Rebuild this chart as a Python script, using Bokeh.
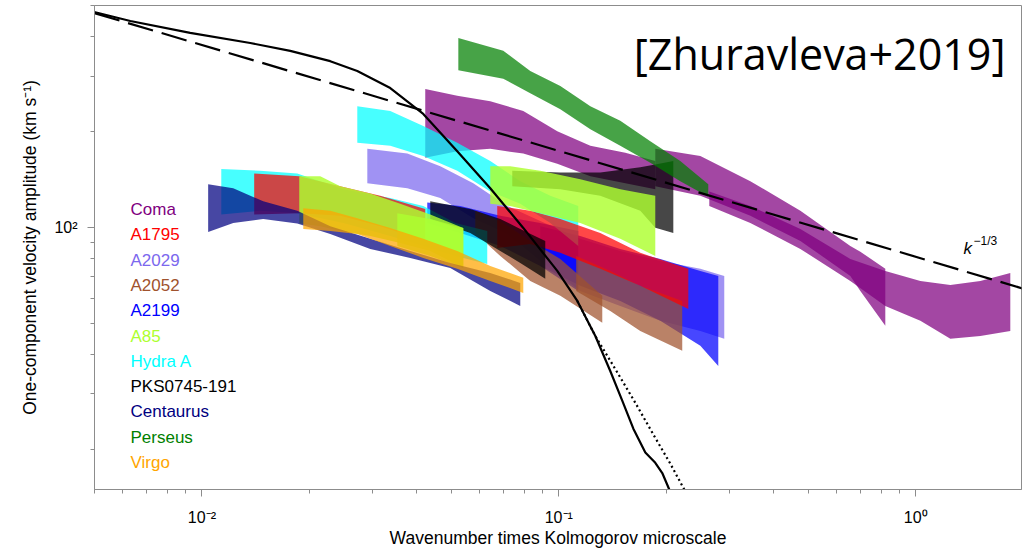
from bokeh.plotting import figure
from bokeh.models import FixedTicker, CustomJSTickFormatter, Label, Range1d
from bokeh.embed import file_html
from bokeh.resources import INLINE

# ---------------- data (wavenumber * Kolmogorov microscale, velocity km/s) ----------------
names = ["Coma", "A1795", "A2029", "A2052", "A2199", "A85", "Hydra A",
         "PKS0745-191", "Centaurus", "Perseus", "Virgo"]
colors = ["purple", "red", "mediumslateblue", "sienna", "blue", "greenyellow",
          "cyan", "black", "navy", "green", "orange"]

# Coma
coma_k1 = [0.04225, 0.05194, 0.06427, 0.07953, 0.09904, 0.1226, 0.1536, 0.1864]
coma_hi1 = [273, 260, 250, 233, 201, 181, 172, 162]
coma_lo1 = [166, 174, 177, 171, 159, 145, 138, 132]
coma_k2 = [0.1864, 0.2493, 0.3442, 0.4753, 0.6561, 0.7000, 0.8223]
coma_hi2 = [177, 168, 140, 113, 87.6, 84.0, 74.2]
coma_lo2 = [135, 126, 109, 90.8, 70.5, 63.2, 49.1]
coma_k3 = [0.2641, 0.3442, 0.4753, 0.6561, 0.8223, 1.031, 1.251, 1.518, 1.842]
coma_hi3 = [130, 117, 99.1, 79.7, 73.1, 68.0, 66.0, 68.0, 72.0]
coma_lo3 = [117, 103.5, 85.7, 68.0, 56.7, 50.9, 44.7, 45.6, 47.3]

# A1795
a1795_k1 = [0.01401, 0.01874, 0.02441, 0.0316, 0.04225]
a1795_hi1 = [148, 145, 135, 126, 114.5]
a1795_lo1 = [110, 111, 109, 101, 90.8]
a1795_k2 = [0.06723, 0.0832, 0.101, 0.1307, 0.1692, 0.2307]
a1795_hi2 = [117, 113, 106.5, 96.2, 83.3, 74.2]
a1795_lo2 = [86.3, 88.9, 83.3, 74.2, 65.6, 55.5]

# A2029
a2029_k = [0.02907, 0.03763, 0.04655, 0.0576, 0.07173, 0.08873, 0.1149, 0.1487, 0.1925, 0.2493, 0.2909]
a2029_hi = [177, 171, 156, 138, 117, 105, 92.2, 84.5, 78.6, 74.2, 70.5]
a2029_lo = [138, 133, 124, 107, 95.5, 78.6, 63.2, 56.7, 50.9, 47.3, 44.7]

# A2052
a2052_k1 = [0.05834, 0.06855, 0.0832, 0.101, 0.1324]
a2052_hi1 = [113, 105, 90.8, 79.7, 61.0]
a2052_lo1 = [96.2, 81.5, 68.0, 61.0, 50.2]
a2052_k2 = [0.1119, 0.1394, 0.1692, 0.2218]
a2052_hi2 = [81.5, 73.1, 65.6, 58.8]
a2052_lo2 = [63.2, 54.7, 47.3, 41.0]

# A2199
a2199_k1 = [0.0428, 0.05295, 0.06855, 0.08873, 0.1134]
a2199_hi1 = [120, 117, 109, 103.5, 97.6]
a2199_lo1 = [103.5, 96.2, 87.6, 75.8, 63.2]
a2199_k2 = [0.08873, 0.1149, 0.1487, 0.1925, 0.2493, 0.2799]
a2199_hi2 = [101, 94.2, 85.7, 79.7, 73.1, 70.5]
a2199_lo2 = [75.8, 65.6, 58.8, 50.9, 42.5, 36.7]

# A85
a85_k1 = [0.01874, 0.02146, 0.02441, 0.02963, 0.03596, 0.04364, 0.054]
a85_hi1 = [145, 145, 135, 128, 119, 110, 99.8]
a85_lo1 = [103, 101, 97.6, 94.2, 89.5, 84.5, 74.7]
a85_k2 = [0.03528, 0.04364, 0.054]
a85_hi2 = [111, 106.5, 99.8]
a85_lo2 = [87.6, 81.5, 74.7]
a85_k3 = [0.06427, 0.07313, 0.08873, 0.1149, 0.1487, 0.1864]
a85_hi3 = [156, 156, 151, 142, 132, 126]
a85_lo3 = [119, 117, 111, 103.5, 92.2, 81.5]

# Hydra A
hydra_k1 = [0.01133, 0.01456, 0.0185, 0.02489, 0.03371, 0.04171, 0.05127, 0.06303]
hydra_hi1 = [153, 151, 148, 132, 124, 117, 103.5, 97.6]
hydra_lo1 = [110, 113, 111, 103.5, 94.2, 87.6, 81.5, 76.9]
hydra_k2 = [0.02725, 0.03371, 0.04171, 0.05194, 0.06427, 0.078, 0.09466, 0.1134]
hydra_hi2 = [241, 233, 209, 185, 162, 140, 126, 117]
hydra_lo2 = [185, 181, 168, 151, 130, 119, 103.5, 87.6]

# PKS0745-191
pks_k1 = [0.04364, 0.05649, 0.06855, 0.078, 0.09165]
pks_hi1 = [121, 114.5, 106.5, 99.1, 90.8]
pks_lo1 = [106.5, 96.2, 84.5, 77.4, 69.0]
pks_k2 = [0.07408, 0.101, 0.1307, 0.1692, 0.1864, 0.2094]
pks_hi2 = [151, 149, 149, 155, 158, 162]
pks_lo2 = [135, 132, 126, 113, 100, 96.2]

# Centaurus
cen_k = [0.01041, 0.01224, 0.01485, 0.0185, 0.02289, 0.02963, 0.03836, 0.04965, 0.06427, 0.078]
cen_hi = [137, 133, 121, 113, 101, 92.2, 84.5, 77.4, 72.0, 67.0]
cen_lo = [96.9, 103.5, 106.5, 103, 95.5, 85.7, 80.3, 74.7, 63.2, 56.7]

# Perseus
per_k = [0.0523, 0.0699, 0.0832, 0.101, 0.1226, 0.1487, 0.1805, 0.219, 0.2624]
per_hi = [395, 360, 311, 279, 241, 217, 187, 162, 137]
per_lo = [313, 294, 265, 236, 204, 181, 160, 140, 125]

# Virgo
vir_k = [0.01923, 0.02289, 0.02725, 0.03371, 0.04171, 0.05194, 0.06427, 0.07953]
vir_hi = [115, 113, 107, 99.8, 92.2, 84.5, 75.8, 69.5]
vir_lo = [99.1, 97.6, 95.5, 87.6, 80.3, 74.2, 68.0, 62.3]

# model curves
model_k = [0.00499, 0.0063, 0.00927, 0.01366, 0.01768, 0.02289, 0.02725, 0.03371, 0.04171,
           0.05194, 0.06427, 0.07953, 0.09904, 0.1127, 0.1266, 0.1394, 0.1507, 0.1618,
           0.1748, 0.1864, 0.195, 0.204]
model_v = [477, 447, 410, 381, 360, 334, 311, 275, 228, 174, 133, 99.8, 73.1, 58.8,
           45.6, 35.4, 28.5, 23.3, 19.6, 18.2, 16.9, 15.0]
model2_k = [0.1127, 0.1266, 0.144, 0.1639, 0.1864, 0.2053, 0.2247]
model2_v = [58.8, 45.6, 35.9, 28.1, 21.8, 18.1, 15.0]
kolmo_k = [0.005, 2.0]
kolmo_v = [473, 64.3]

x_major = [0.01, 0.1, 1.0]
x_minor = [0.005, 0.006, 0.007, 0.008, 0.009, 0.02, 0.03, 0.04, 0.05, 0.06, 0.07, 0.08, 0.09,
           0.2, 0.3, 0.4, 0.5, 0.6, 0.7, 0.8, 0.9, 2.0]
y_major = [100]
y_minor = [20, 30, 40, 50, 60, 70, 80, 90, 200, 300, 400, 500]

# ---------------- figure ----------------
p = figure(width=1022, height=550, x_axis_type="log", y_axis_type="log",
           x_range=Range1d(0.005, 1.98), y_range=Range1d(15, 500),
           output_backend="svg", toolbar_location=None,
           min_border_left=94, min_border_right=1, min_border_top=5, min_border_bottom=61)
p.background_fill_color = "white"
p.border_fill_color = "white"
p.outline_line_color = "#8c8c8c"
p.xgrid.visible = False
p.ygrid.visible = False

ALPHA = 0.72
band_sets = [
    ("purple", ALPHA, [(coma_k1, coma_hi1, coma_lo1), (coma_k2, coma_hi2, coma_lo2), (coma_k3, coma_hi3, coma_lo3)]),
    ("mediumslateblue", ALPHA, [(a2029_k, a2029_hi, a2029_lo)]),
    ("blue", ALPHA, [(a2199_k1, a2199_hi1, a2199_lo1), (a2199_k2, a2199_hi2, a2199_lo2)]),
    ("sienna", ALPHA, [(a2052_k1, a2052_hi1, a2052_lo1), (a2052_k2, a2052_hi2, a2052_lo2)]),
    ("cyan", ALPHA, [(hydra_k1, hydra_hi1, hydra_lo1), (hydra_k2, hydra_hi2, hydra_lo2)]),
    ("red", ALPHA, [(a1795_k1, a1795_hi1, a1795_lo1), (a1795_k2, a1795_hi2, a1795_lo2)]),
    ("black", ALPHA, [(pks_k1, pks_hi1, pks_lo1), (pks_k2, pks_hi2, pks_lo2)]),
    ("greenyellow", 0.82, [(a85_k1, a85_hi1, a85_lo1), (a85_k2, a85_hi2, a85_lo2), (a85_k3, a85_hi3, a85_lo3)]),
    ("navy", ALPHA, [(cen_k, cen_hi, cen_lo)]),
    ("green", ALPHA, [(per_k, per_hi, per_lo)]),
    ("orange", ALPHA, [(vir_k, vir_hi, vir_lo)]),
]
for col, alpha, segs in band_sets:
    for k, hi, lo in segs:
        p.varea(x=k, y1=lo, y2=hi, fill_color=col, fill_alpha=alpha)

p.line(model2_k, model2_v, line_color="black", line_width=2.2, line_dash="2 3")
p.line(model_k, model_v, line_color="black", line_width=2.2)
p.line(kolmo_k, kolmo_v, line_color="black", line_width=2.2, line_dash="26 9")

# ---------------- axes ----------------
fmt = CustomJSTickFormatter(code="""
const e = Math.round(Math.log10(tick));
const m = {"-2": "10\u207B\u00B2", "-1": "10\u207B\u00B9", "0": "10\u2070", "1": "10\u00B9", "2": "10\u00B2"};
return m[String(e)] || "";
""")
for ax, maj, mnr in ((p.xaxis[0], x_major, x_minor), (p.yaxis[0], y_major, y_minor)):
    ax.ticker = FixedTicker(ticks=maj, minor_ticks=mnr)
    ax.formatter = fmt
    ax.axis_line_color = "#8c8c8c"
    ax.major_tick_line_color = "#8c8c8c"
    ax.minor_tick_line_color = "#8c8c8c"
    ax.major_tick_in = 0
    ax.major_tick_out = 7
    ax.minor_tick_in = 0
    ax.minor_tick_out = 4
    ax.major_label_text_font = "Liberation Sans"
    ax.major_label_text_font_size = "16px"
    ax.major_label_text_color = "black"
    ax.axis_label_text_font = "Liberation Sans"
    ax.axis_label_text_font_size = "17.5px"
    ax.axis_label_text_font_style = "normal"
    ax.axis_label_text_color = "black"

p.xaxis.axis_label = "Wavenumber times Kolmogorov microscale"
p.yaxis.axis_label = "One-component velocity amplitude (km s\u207B\u00B9)"
p.xaxis.major_label_standoff = 12
p.yaxis.major_label_standoff = 10
p.xaxis.axis_label_standoff = -1
p.yaxis.axis_label_standoff = 11

# ---------------- labels ----------------
for i, (name, col) in enumerate(zip(names, colors)):
    p.add_layout(Label(x=36, y=280 - 25.3 * i, x_units="screen", y_units="screen",
                       text=name, text_color=col, text_font="Liberation Sans",
                       text_font_size="17px", text_baseline="alphabetic"))

p.add_layout(Label(x=869, y=241, x_units="screen", y_units="screen", text="k",
                   text_font="Liberation Sans", text_font_style="italic",
                   text_font_size="17px", text_baseline="alphabetic", text_color="black"))
p.add_layout(Label(x=879, y=248.5, x_units="screen", y_units="screen", text="\u22121/3",
                   text_font="Liberation Sans", text_font_size="12px",
                   text_baseline="alphabetic", text_color="black"))

p.add_layout(Label(x=911, y=436.5, x_units="screen", y_units="screen", text="[Zhuravleva+2019]",
                   text_font="Open Sans", text_font_size="43px", text_align="right",
                   text_baseline="alphabetic", text_color="black"))

open("out.html", "w").write(file_html(p, INLINE))
